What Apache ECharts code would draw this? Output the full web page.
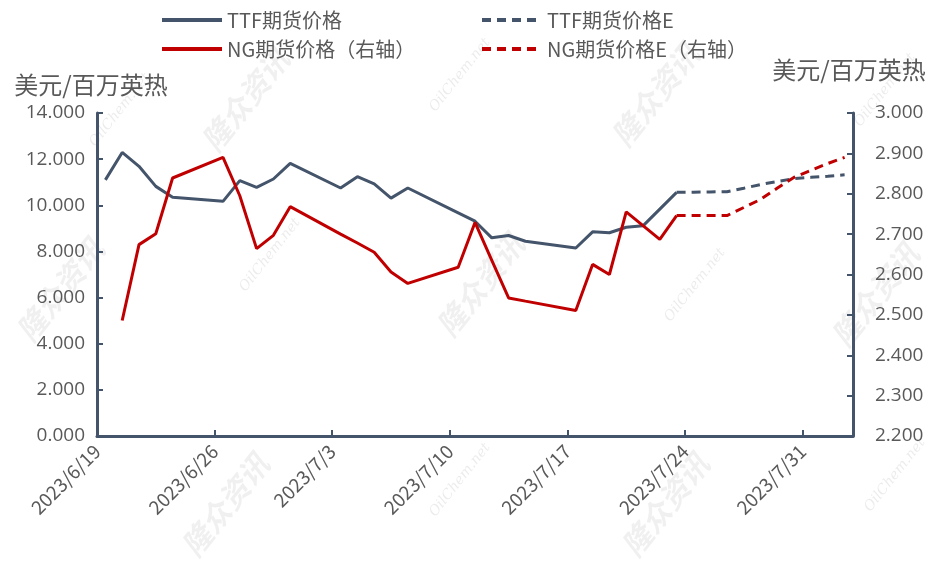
<!DOCTYPE html>
<html><head><meta charset="utf-8">
<script src="https://cdn.jsdelivr.net/npm/echarts@6/dist/echarts.min.js"></script>
<style>html,body{margin:0;padding:0;background:#fff}#c{width:940px;height:564px}</style>
</head><body><div id="c"></div>
<script>
// ---- data ----
const baseDate = '2023/6/19';
const histDates = ['2023/6/19','2023/6/20','2023/6/21','2023/6/22','2023/6/23','2023/6/26','2023/6/27','2023/6/28','2023/6/29','2023/6/30','2023/7/3','2023/7/4','2023/7/5','2023/7/6','2023/7/7','2023/7/10','2023/7/11','2023/7/12','2023/7/13','2023/7/14','2023/7/17','2023/7/18','2023/7/19','2023/7/20','2023/7/21','2023/7/22','2023/7/23'];
const ttfPrice = [11.10,12.29,11.69,10.82,10.35,10.17,11.07,10.78,11.14,11.82,10.75,11.24,10.93,10.31,10.75,9.67,9.31,8.59,8.69,8.44,8.15,8.85,8.81,9.05,9.11,null,10.56];
const ngPrice = [null,2.486,2.674,2.701,2.839,2.890,2.795,2.664,2.697,2.768,2.700,2.678,2.655,2.606,2.578,2.618,2.729,2.635,2.542,2.534,2.511,2.625,2.600,2.755,2.721,2.687,2.746];
const estDates = ['2023/7/23','2023/7/24','2023/7/25','2023/7/26','2023/7/27','2023/7/28','2023/7/29','2023/7/30','2023/7/31','2023/8/1','2023/8/2'];
const ttfEst = [10.56,10.57,10.58,10.59,10.74,10.90,11.03,11.16,11.21,11.26,11.32];
const ngEst = [2.746,2.746,2.746,2.746,2.766,2.786,2.814,2.841,2.858,2.875,2.890];
const seriesNames = ['TTF期货价格','NG期货价格（右轴）','TTF期货价格E','NG期货价格E（右轴）'];
const unitName = '美元/百万英热';
const xDays = {min: 0, max: 45, interval: 7};
const leftAxis = {min: 0, max: 14, interval: 2};
const rightAxis = {min: 2.2, max: 3.0, interval: 0.1};

// ---- helpers ----
const DAY = 86400000;
function parseD(s){const p=s.split('/').map(Number);return Date.UTC(p[0],p[1]-1,p[2]);}
function dayOff(s){return (parseD(s)-parseD(baseDate))/DAY;}
function dayLabel(v){const t=new Date(parseD(baseDate)+Math.round(v)*DAY);return t.getUTCFullYear()+'/'+(t.getUTCMonth()+1)+'/'+t.getUTCDate();}
function pairs(dates, vals){return dates.map((d,i)=>[dayOff(d)+0.5, vals[i]]);}

const BLUE = '#44546a', RED = '#c00000', TXT = '#595959';
const FONT = '"Noto Sans CJK SC","Open Sans",sans-serif';

function wm(text, x, y, big){
  return {type:'text', x:x, y:y, rotation: 0.9, z: 0, silent:true,
    style:{text:text, fill: big ? 'rgba(0,0,0,0.06)' : 'rgba(0,0,0,0.08)',
      font: big ? 'italic bold 30px "Noto Sans CJK SC"' : 'italic 14px "DejaVu Serif"',
      align:'center', verticalAlign:'middle'}};
}

const legendCommon = {top:2, orient:'vertical', itemGap:3, itemWidth:60, itemHeight:14,
  itemStyle:{opacity:0}, lineStyle:{width:4},
  textStyle:{fontSize:20, color:TXT, lineHeight:26, fontFamily:FONT}};

const chart = echarts.init(document.getElementById('c'), null, {renderer:'canvas'});
chart.setOption({
  animation:false,
  backgroundColor:'#fff',
  textStyle:{fontFamily:FONT},
  graphic:[
    wm('隆众资讯',245,100,true), wm('隆众资讯',480,285,true), wm('隆众资讯',655,95,true),
    wm('隆众资讯',60,290,true), wm('隆众资讯',875,295,true), wm('隆众资讯',225,505,true), wm('隆众资讯',665,505,true),
    wm('OilChem.net',460,75,false), wm('OilChem.net',270,255,false), wm('OilChem.net',695,285,false),
    wm('OilChem.net',885,90,false), wm('OilChem.net',120,110,false), wm('OilChem.net',460,480,false), wm('OilChem.net',895,475,false)
  ],
  grid:{left:97, right:87, top:113, bottom:128, containLabel:false},
  legend:[
    Object.assign({left:155, data:[seriesNames[0], seriesNames[1]]}, legendCommon),
    Object.assign({left:475, data:[seriesNames[2], seriesNames[3]]}, legendCommon)
  ],
  xAxis:{type:'value', min:xDays.min, max:xDays.max, interval:xDays.interval,
    splitLine:{show:false},
    axisLine:{show:true, lineStyle:{color:BLUE, width:3}},
    axisTick:{show:true, inside:true, length:6, lineStyle:{color:BLUE, width:2}},
    axisLabel:{rotate:45, fontSize:19, color:TXT, margin:12, showMaxLabel:false, showMinLabel:true,
      formatter:function(v){return dayLabel(v);}}},
  yAxis:[
    {type:'value', position:'left', min:leftAxis.min, max:leftAxis.max, interval:leftAxis.interval,
     name:unitName, nameLocation:'end', nameGap:16,
     nameTextStyle:{fontSize:24, color:TXT, align:'center', padding:[0,12,0,0]},
     splitLine:{show:false},
     axisLine:{show:true, lineStyle:{color:BLUE, width:3}},
     axisTick:{show:true, inside:true, length:6, lineStyle:{color:BLUE, width:2}},
     axisLabel:{fontSize:19, color:TXT, margin:12, fontFamily:'"Open Sans",sans-serif', formatter:function(v){return v.toFixed(3);}}},
    {type:'value', position:'right', min:rightAxis.min, max:rightAxis.max, interval:rightAxis.interval,
     name:unitName, nameLocation:'end', nameGap:31,
     nameTextStyle:{fontSize:24, color:TXT, align:'center', padding:[0,0,0,-8]},
     splitLine:{show:false},
     axisLine:{show:true, lineStyle:{color:BLUE, width:3}},
     axisTick:{show:true, inside:true, length:6, lineStyle:{color:BLUE, width:2}},
     axisLabel:{fontSize:19, color:TXT, margin:22, fontFamily:'"Open Sans",sans-serif', formatter:function(v){return v.toFixed(3);}}}
  ],
  series:[
    {name:seriesNames[0], type:'line', yAxisIndex:0, data:pairs(histDates, ttfPrice), connectNulls:true,
     symbol:'none', lineStyle:{color:BLUE, width:3}, itemStyle:{color:BLUE}, z:3},
    {name:seriesNames[1], type:'line', yAxisIndex:1, data:pairs(histDates, ngPrice), connectNulls:true,
     symbol:'none', lineStyle:{color:RED, width:3}, itemStyle:{color:RED}, z:4},
    {name:seriesNames[2], type:'line', yAxisIndex:0, data:pairs(estDates, ttfEst),
     symbol:'none', lineStyle:{color:BLUE, width:3, type:[9,6]}, itemStyle:{color:BLUE}, z:3},
    {name:seriesNames[3], type:'line', yAxisIndex:1, data:pairs(estDates, ngEst),
     symbol:'none', lineStyle:{color:RED, width:3, type:[9,6]}, itemStyle:{color:RED}, z:4}
  ]
});
</script></body></html>
